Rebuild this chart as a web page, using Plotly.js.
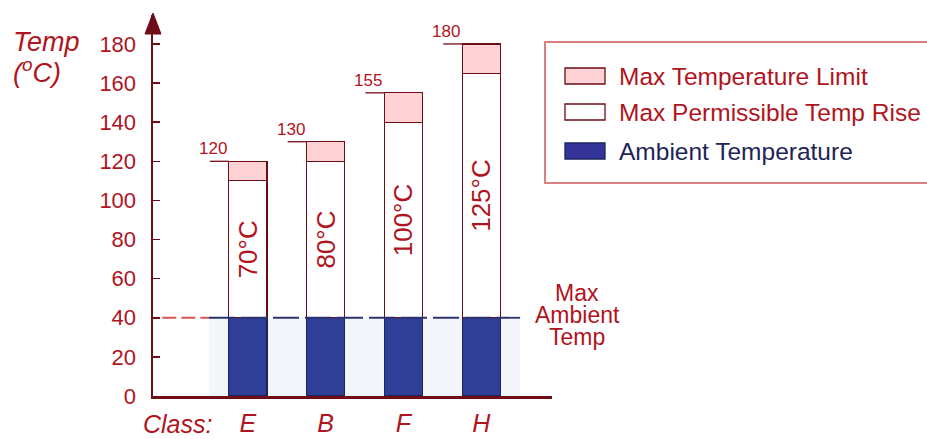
<!DOCTYPE html>
<html>
<head>
<meta charset="utf-8">
<script src="https://cdn.plot.ly/plotly-3.0.1.min.js"></script>
<style>html,body{margin:0;padding:0;background:#fff;}#chart{width:927px;height:439px;}</style>
</head>
<body>
<div id="chart"></div>
<script>
// ---- data ----
const classes = ['E', 'B', 'F', 'H'];
const ambient = [40, 40, 40, 40];           // ambient temperature (°C)
const tempRise = [70, 80, 100, 125];        // max permissible temp rise (°C)
const tempLimit = [120, 130, 155, 180];     // max temperature limit (°C)
const yTicks = [0, 20, 40, 60, 80, 100, 120, 140, 160, 180];
const seriesNames = ['Max Temperature Limit', 'Max Permissible Temp Rise', 'Ambient Temperature'];
const maxAmbient = 40;
const maxAmbientLabel = ['Max', 'Ambient', 'Temp'];
const yTitleLines = ['Temp', '(<sup>o</sup>C)'];

// derived: hot-spot allowance on top of ambient + rise
const hotSpot = tempLimit.map((v, i) => v - ambient[i] - tempRise[i]);

// ---- styles ----
const RED = '#b0141e';
const MAROON = '#6e0c18';
const NAVY = '#2f3f98';
const PINK = '#ffd3d5';
const FONT = 'Liberation Sans, Arial, sans-serif';
const BARW = 0.49;

const traces = [
  {
    type: 'bar', name: seriesNames[2], x: classes, y: ambient, width: BARW,
    marker: {color: NAVY, line: {color: '#1c2460', width: 1.2}},
    hoverinfo: 'skip', showlegend: false
  },
  {
    type: 'bar', name: seriesNames[1], x: classes, y: tempRise, width: BARW,
    marker: {color: '#ffffff', line: {color: MAROON, width: 1.2}},
    text: tempRise.map(v => v + '°C'),
    textposition: 'inside', insidetextanchor: 'middle', textangle: -90,
    constraintext: 'none',
    textfont: {family: FONT, size: 26, color: RED},
    hoverinfo: 'skip', showlegend: false
  },
  {
    type: 'bar', name: seriesNames[0], x: classes, y: hotSpot, width: BARW,
    marker: {color: PINK, line: {color: MAROON, width: 1.2}},
    hoverinfo: 'skip', showlegend: false
  }
];

const shapes = [];
const annotations = [];

// light background behind bars up to ambient level
shapes.push({type: 'rect', xref: 'x', yref: 'y', layer: 'below',
  x0: -0.5, x1: classes.length - 0.5, y0: 0, y1: maxAmbient,
  fillcolor: '#f3f5fa', line: {width: 0}});

// dashed max-ambient line (red part left, navy part over the bars)
shapes.push({type: 'line', xref: 'x', yref: 'y', layer: 'above',
  x0: -1.1, x1: -0.5, y0: maxAmbient, y1: maxAmbient,
  line: {color: '#d9534f', width: 1.8, dash: '14px,5px'}});
shapes.push({type: 'line', xref: 'x', yref: 'y', layer: 'above',
  x0: -0.5, x1: classes.length - 0.5, y0: maxAmbient, y1: maxAmbient,
  line: {color: '#2a3270', width: 1.8, dash: '26px,6px'}});

// limit labels with underline at bar tops
classes.forEach((c, i) => {
  shapes.push({type: 'line', xref: 'x', yref: 'y', xsizemode: 'pixel', xanchor: i,
    x0: -38, x1: -19, y0: tempLimit[i], y1: tempLimit[i],
    line: {color: MAROON, width: 1.3}});
  annotations.push({xref: 'x', yref: 'y', x: c, y: tempLimit[i], xshift: -19, yshift: 1,
    xanchor: 'right', yanchor: 'bottom', showarrow: false,
    text: String(tempLimit[i]), font: {family: FONT, size: 17, color: RED}});
});

// arrow at top of y axis
shapes.push({type: 'path', xref: 'paper', yref: 'paper', xsizemode: 'pixel', ysizemode: 'pixel',
  xanchor: 0, yanchor: 1, path: 'M -8,-19 L 8,-19 L 0,2 Z',
  fillcolor: MAROON, line: {color: MAROON, width: 1}});

// axis title (two tight lines)
yTitleLines.forEach((t, k) => {
  annotations.push({xref: 'paper', yref: 'paper', x: 0, y: 1, xshift: -142, yshift: -(27 + k * 29),
    xanchor: 'left', yanchor: 'middle', align: 'left', showarrow: false,
    text: t, font: {family: FONT, size: 27, color: RED, style: 'italic'}});
});

// class label
annotations.push({xref: 'paper', yref: 'paper', x: 0, y: 0, xshift: 61, yshift: -28,
  xanchor: 'right', yanchor: 'middle', showarrow: false,
  text: 'Class:', font: {family: FONT, size: 25, color: RED, style: 'italic'}});

// Max Ambient Temp label (three tight lines)
maxAmbientLabel.forEach((t, k) => {
  annotations.push({xref: 'x', yref: 'y', x: classes.length - 0.5, y: maxAmbient, xshift: 57,
    yshift: 25 - k * 22,
    xanchor: 'center', yanchor: 'middle', showarrow: false,
    text: t, font: {family: FONT, size: 23, color: RED}});
});

// manual legend
shapes.push({type: 'rect', xref: 'paper', yref: 'paper', xsizemode: 'pixel', ysizemode: 'pixel',
  xanchor: 0, yanchor: 1, x0: 392, x1: 790, y0: -27, y1: -168,
  fillcolor: 'rgba(0,0,0,0)', line: {color: '#d98080', width: 2}});
const legendFill = [PINK, '#ffffff', '#35349a'];
const legendLine = [MAROON, MAROON, '#1c2460'];
const legendText = [RED, RED, '#1e2456'];
const legendY = [76, 112, 151];
seriesNames.forEach((n, k) => {
  const yc = legendY[k] - 15;
  shapes.push({type: 'rect', xref: 'paper', yref: 'paper', xsizemode: 'pixel', ysizemode: 'pixel',
    xanchor: 0, yanchor: 1, x0: 412, x1: 452, y0: -(yc - 8), y1: -(yc + 8),
    fillcolor: legendFill[k], line: {color: legendLine[k], width: 1.3}});
  annotations.push({xref: 'paper', yref: 'paper', x: 0, y: 1, xshift: 464, yshift: -yc,
    xanchor: 'left', yanchor: 'middle', showarrow: false,
    text: n, font: {family: FONT, size: 24.5, color: legendText[k]}});
});

const layout = {
  width: 927, height: 439,
  margin: {l: 153, r: 375, t: 15, b: 43},
  paper_bgcolor: '#ffffff', plot_bgcolor: '#ffffff',
  barmode: 'stack', showlegend: false,
  font: {family: FONT, color: RED},
  xaxis: {
    type: 'category', range: [-1.22, 3.91], fixedrange: true,
    showline: true, linecolor: MAROON, linewidth: 2.5, ticks: '', showgrid: false,
    zeroline: false, ticklabelstandoff: 3,
    tickfont: {family: FONT, size: 25, color: RED, style: 'italic'}
  },
  yaxis: {
    range: [0, 194.8], fixedrange: true, tickvals: yTicks,
    showline: true, linecolor: MAROON, linewidth: 2.5,
    ticks: 'inside', ticklen: 7, tickwidth: 1.5, tickcolor: MAROON,
    showgrid: false, zeroline: false, ticklabelstandoff: 10,
    tickfont: {family: FONT, size: 22, color: RED}
  },
  shapes: shapes,
  annotations: annotations
};

Plotly.newPlot('chart', traces, layout, {displayModeBar: false, staticPlot: true});
</script>
</body>
</html>
